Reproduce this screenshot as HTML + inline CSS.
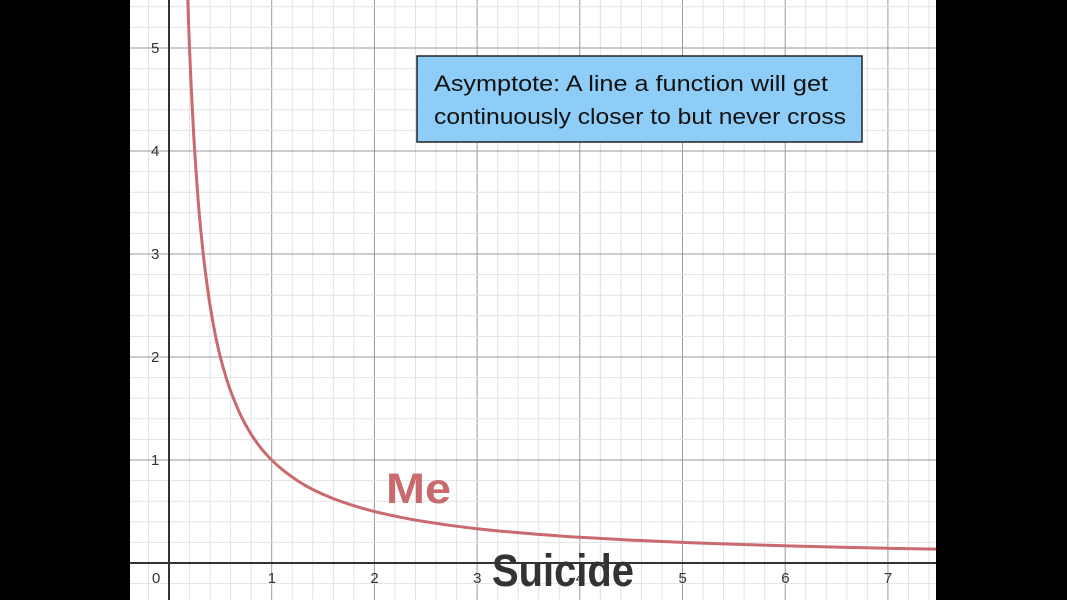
<!DOCTYPE html>
<html><head><meta charset="utf-8"><style>
html,body{margin:0;padding:0;background:#000;}
svg{display:block;}
</style></head><body>
<svg id="chart" width="1067" height="600" viewBox="0 0 1067 600" xmlns="http://www.w3.org/2000/svg">
<defs><clipPath id="pc"><rect x="130" y="0" width="806" height="600"/></clipPath></defs>
<rect x="0" y="0" width="1067" height="600" fill="#000"/>
<rect x="130" y="0" width="806" height="600" fill="#fff"/>
<g id="grid"></g>
<g id="axes"></g>
<g id="ticks" font-family="Liberation Sans, sans-serif" font-size="15" fill="#333"></g>
<path id="curve" clip-path="url(#pc)" fill="none" stroke="#c96a6e" stroke-width="3"/>
<text x="386" y="503" font-family="Liberation Sans, sans-serif" font-weight="bold" font-size="43" textLength="65" lengthAdjust="spacingAndGlyphs" fill="#c96a6e">Me</text>
<text x="492" y="586" font-family="Liberation Sans, sans-serif" font-weight="bold" font-size="45" textLength="142" lengthAdjust="spacingAndGlyphs" fill="#333">Suicide</text>
<g>
<rect x="417" y="56" width="445" height="86" fill="#8dcdf7" stroke="#222" stroke-width="1.5"/>
<text x="434" y="91" font-family="Liberation Sans, sans-serif" font-size="22" textLength="394" lengthAdjust="spacingAndGlyphs" fill="#111">Asymptote: A line a function will get</text>
<text x="434" y="124" font-family="Liberation Sans, sans-serif" font-size="22" textLength="412" lengthAdjust="spacingAndGlyphs" fill="#111">continuously closer to but never cross</text>
</g>
</svg>
<script>
const curveX = [0.17,0.18,0.19,0.2,0.21,0.22,0.24,0.26,0.28,0.3,0.33,0.36,0.4,0.45,0.5,0.55,0.6,0.7,0.8,0.9,1,1.1,1.25,1.4,1.6,1.8,2,2.3,2.6,3,3.5,4,4.5,5,5.5,6,6.5,7,7.6];
const curveY = [5.88,5.56,5.26,5.0,4.76,4.55,4.17,3.85,3.57,3.33,3.03,2.78,2.5,2.22,2.0,1.82,1.67,1.43,1.25,1.11,1.0,0.91,0.8,0.714,0.625,0.556,0.5,0.435,0.385,0.333,0.286,0.25,0.222,0.2,0.182,0.167,0.154,0.143,0.132];
const xTicks = ["0","1","2","3","4","5","6","7"];
const yTicks = ["1","2","3","4","5"];
const ns="http://www.w3.org/2000/svg";
const X0=169, Y0=563, SX=102.7, SY=103;
const sx=v=>X0+v*SX, sy=v=>Y0-v*SY;
const L=130,R=936;
const grid=document.getElementById('grid');
function line(g,x1,y1,x2,y2,c,w,name){const l=document.createElementNS(ns,'line');
l.setAttribute('x1',x1);l.setAttribute('y1',y1);l.setAttribute('x2',x2);l.setAttribute('y2',y2);
l.setAttribute('stroke',c);l.setAttribute('stroke-width',w);


g.appendChild(l);}
for(let i=-10;i<=45;i++){const v=i/5;const x=sx(v);if(x<L||x>R)continue;
 if(i%5===0)line(grid,x,0,x,600,'#999',1,'grid-major-x');else line(grid,x,0,x,600,'#e2e2e2',1,'grid-minor-x');}
for(let i=-5;i<=30;i++){const v=i/5;const y=sy(v);if(y<0||y>600)continue;
 if(i%5===0)line(grid,L,y,R,y,'#999',1,'grid-major-y');else line(grid,L,y,R,y,'#e2e2e2',1,'grid-minor-y');}
const axes=document.getElementById('axes');
line(axes,sx(0),0,sx(0),600,'#333',2,'y-axis');
line(axes,L,Y0,R,Y0,'#333',2,'x-axis');
const ticks=document.getElementById('ticks');
xTicks.forEach((t,i)=>{const e=document.createElementNS(ns,'text');
e.setAttribute('x',i===0?sx(0)-17:sx(+t)-4);e.setAttribute('y',Y0+20);e.textContent=t;


ticks.appendChild(e);});
yTicks.forEach(t=>{const e=document.createElementNS(ns,'text');
e.setAttribute('x',sx(0)-18);e.setAttribute('y',sy(+t)+5);e.textContent=t;


ticks.appendChild(e);});
// Catmull-Rom smoothing through the data points
const P=curveX.map((v,i)=>[sx(v),sy(curveY[i])]);
let d='M'+P[0][0].toFixed(1)+','+P[0][1].toFixed(1);
for(let i=0;i<P.length-1;i++){const p0=P[i-1]||P[i],p1=P[i],p2=P[i+1],p3=P[i+2]||P[i+1];
 const c1=[p1[0]+(p2[0]-p0[0])/6,p1[1]+(p2[1]-p0[1])/6],c2=[p2[0]-(p3[0]-p1[0])/6,p2[1]-(p3[1]-p1[1])/6];
 d+='C'+c1.map(n=>n.toFixed(1)).join(',')+' '+c2.map(n=>n.toFixed(1)).join(',')+' '+p2.map(n=>n.toFixed(1)).join(',');}
document.getElementById('curve').setAttribute('d',d);
</script>
</body></html>
